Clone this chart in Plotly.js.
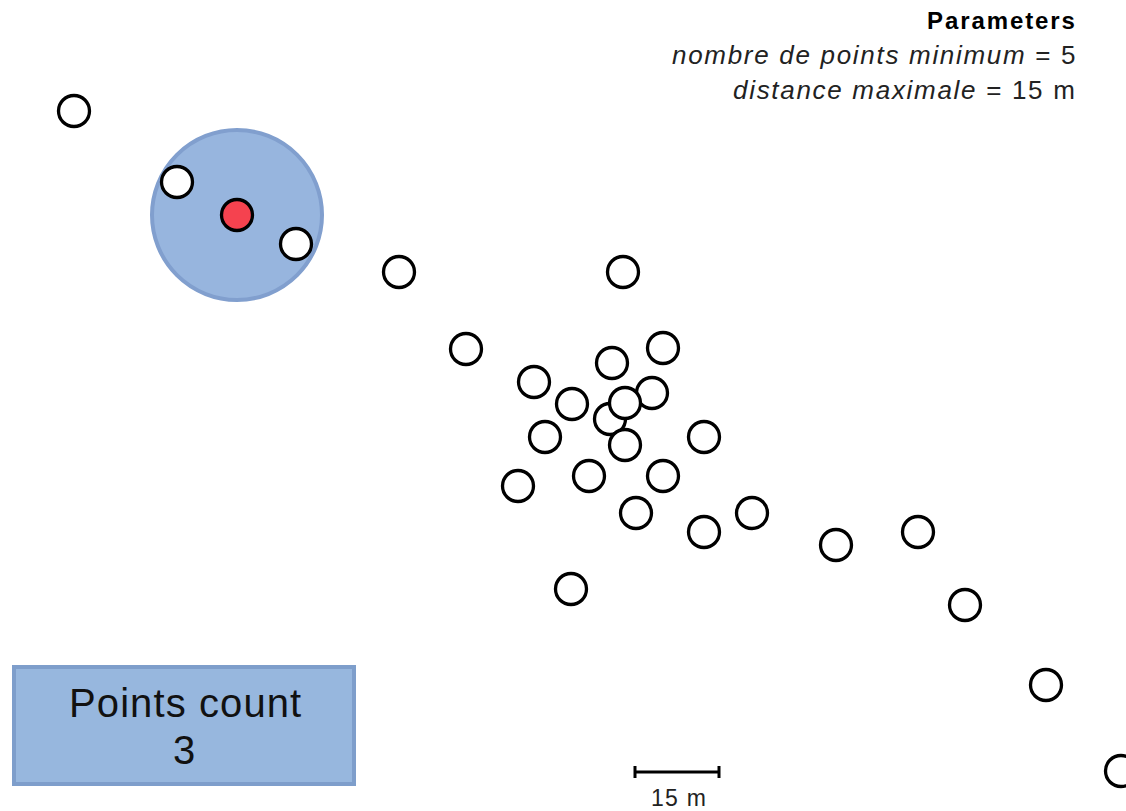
<!DOCTYPE html>
<html>
<head>
<meta charset="utf-8">
<script src="https://cdn.plot.ly/plotly-3.0.1.min.js"></script>
<style>html,body{margin:0;padding:0;background:#fff;}#chart{width:1126px;height:811px;}</style>
</head>
<body>
<div id="chart"></div>
<script>
// Point positions (plot units)
const pointX = [74, 177, 296, 399, 623, 466, 663, 612, 534, 610, 652, 572, 625, 545, 625, 704, 589, 663, 518, 636, 704, 752, 836, 918, 571, 965, 1046, 1121];
const pointY = [111, 182, 244, 272, 272, 349, 348, 363, 382, 419, 393, 404, 403, 437, 445, 437, 476, 476, 486, 513, 532, 513, 545, 532, 589, 605, 685, 771];
const coreX = [237];
const coreY = [215];
const searchRadius = 85;
const pointsCount = 3;
const minPoints = 5;
const maxDistance = 15;
const scaleStart = 635, scaleEnd = 719, scaleY = 772;

function sp(t, px) { return '<span style="letter-spacing:' + px + 'px">' + t + '</span>'; }

const traces = [
  {x: [scaleStart, scaleEnd], y: [scaleY, scaleY], mode: 'lines', line: {color: '#000', width: 3}, hoverinfo: 'skip'},
  {x: [scaleStart, scaleStart], y: [scaleY - 6, scaleY + 6], mode: 'lines', line: {color: '#000', width: 3}, hoverinfo: 'skip'},
  {x: [scaleEnd, scaleEnd], y: [scaleY - 6, scaleY + 6], mode: 'lines', line: {color: '#000', width: 3}, hoverinfo: 'skip'},
  {x: pointX, y: pointY, mode: 'markers', marker: {size: 31, color: '#fff', line: {color: '#000', width: 3.3}}},
  {x: coreX, y: coreY, mode: 'markers', marker: {size: 31, color: '#f5424f', line: {color: '#000', width: 3.3}}}
];

const layout = {
  width: 1126, height: 811,
  margin: {l: 0, r: 0, t: 0, b: 0},
  paper_bgcolor: '#fff', plot_bgcolor: '#fff',
  showlegend: false,
  xaxis: {range: [0, 1126], visible: false, fixedrange: true},
  yaxis: {range: [811, 0], visible: false, fixedrange: true},
  shapes: [
    {type: 'circle', xref: 'x', yref: 'y', layer: 'below',
     x0: coreX[0] - searchRadius, x1: coreX[0] + searchRadius,
     y0: coreY[0] - searchRadius, y1: coreY[0] + searchRadius,
     fillcolor: '#97b5de', line: {color: '#819fce', width: 4}},
    {type: 'rect', xref: 'x', yref: 'y', layer: 'below',
     x0: 14, x1: 354, y0: 667, y1: 784,
     fillcolor: '#97b7de', line: {color: '#7e9ecb', width: 4}}
  ],
  annotations: [
    {x: 1079, y: 20, xref: 'x', yref: 'y', xanchor: 'right', yanchor: 'middle', showarrow: false,
     text: sp('<b>Parameters</b>', 1.9), font: {family: 'Liberation Sans, Arial', size: 24, color: '#000'}},
    {x: 1079, y: 55, xref: 'x', yref: 'y', xanchor: 'right', yanchor: 'middle', showarrow: false,
     text: sp('<i>nombre de points minimum</i> = ' + minPoints, 1.7), font: {family: 'Liberation Sans, Arial', size: 26, color: '#222'}},
    {x: 1079, y: 90, xref: 'x', yref: 'y', xanchor: 'right', yanchor: 'middle', showarrow: false,
     text: sp('<i>distance maximale</i> = ' + maxDistance + ' m', 1.7), font: {family: 'Liberation Sans, Arial', size: 26, color: '#222'}},
    {x: 185, y: 703, xref: 'x', yref: 'y', xanchor: 'center', yanchor: 'middle', showarrow: false,
     text: sp('Points count', 1.1), font: {family: 'Liberation Sans, Arial', size: 40, color: '#111'}},
    {x: 184, y: 750, xref: 'x', yref: 'y', xanchor: 'center', yanchor: 'middle', showarrow: false,
     text: String(pointsCount), font: {family: 'Liberation Sans, Arial', size: 40, color: '#111'}},
    {x: 679, y: 798, xref: 'x', yref: 'y', xanchor: 'center', yanchor: 'middle', showarrow: false,
     text: sp(maxDistance + ' m', 1.3), font: {family: 'Liberation Sans, Arial', size: 23, color: '#222'}}
  ]
};

Plotly.newPlot('chart', traces, layout, {displayModeBar: false, staticPlot: true});
</script>
</body>
</html>
